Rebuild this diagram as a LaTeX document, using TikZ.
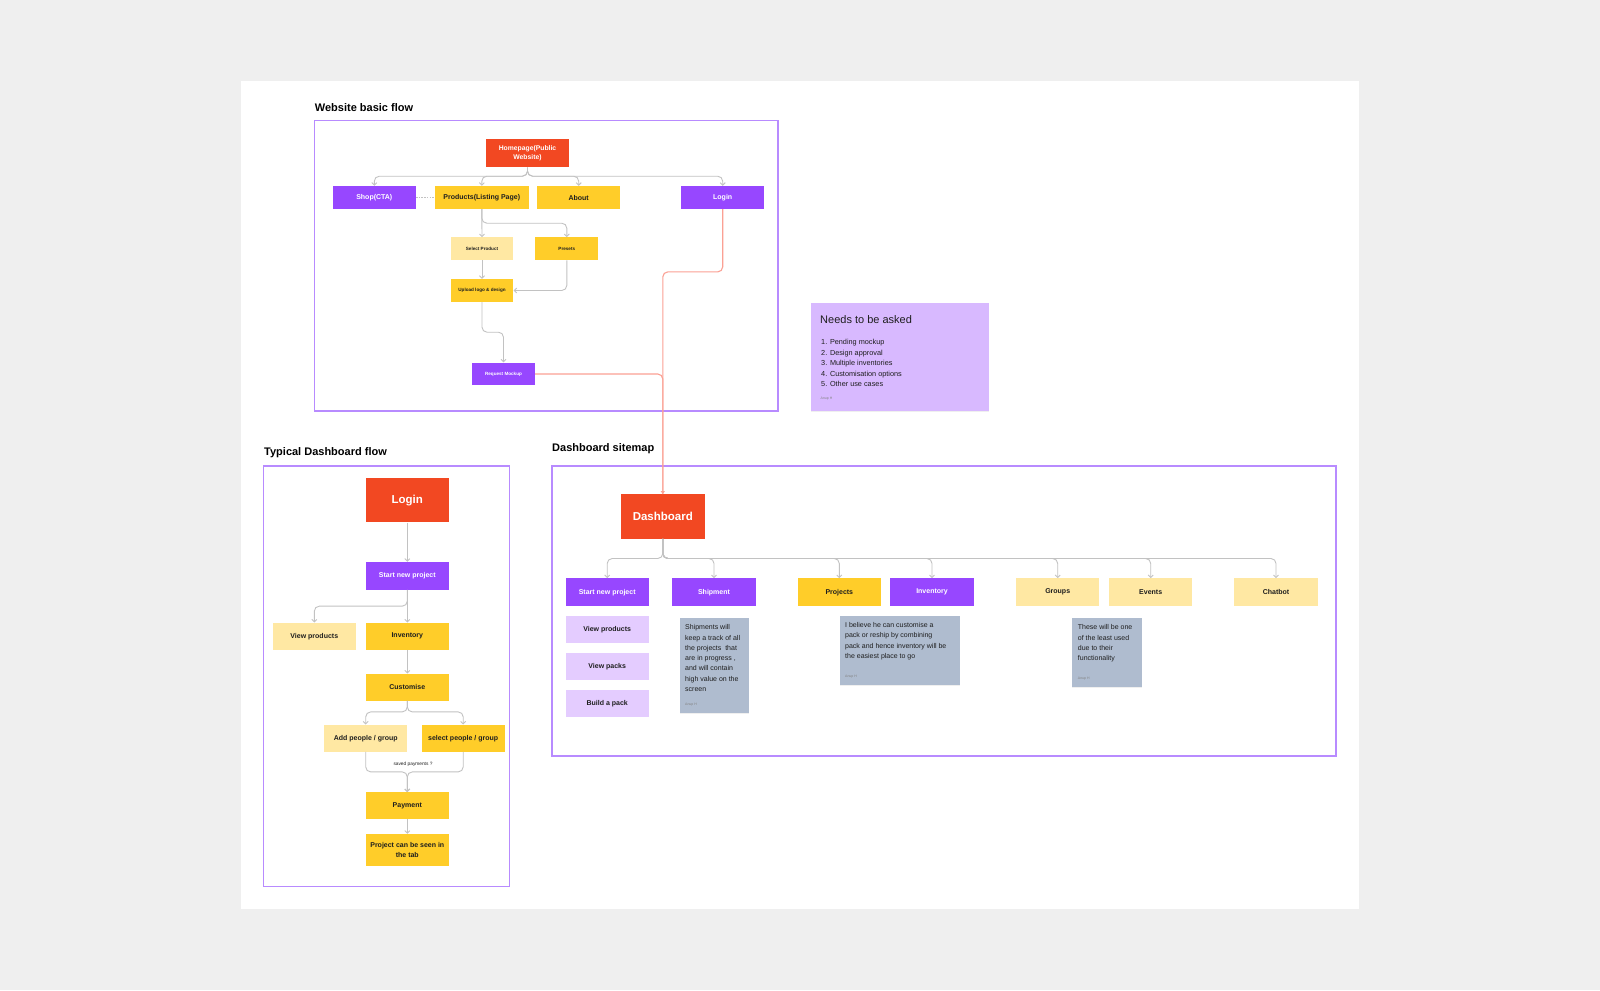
\documentclass[tikz,border=0pt]{standalone}
\usepackage{fontspec}
\setmainfont{Liberation Sans}
\usetikzlibrary{arrows.meta, positioning, shadows}
\definecolor{cbg}{HTML}{EFEFEF}
\definecolor{cframe}{HTML}{B88BFF}
\definecolor{cred}{HTML}{F24822}
\definecolor{cpurple}{HTML}{9747FF}
\definecolor{cyellow}{HTML}{FFCD29}
\definecolor{cpale}{HTML}{FFE8A3}
\definecolor{clilac}{HTML}{E4CCFF}
\definecolor{csticky}{HTML}{D8B9FF}
\definecolor{cnote}{HTML}{AFBCCF}
\definecolor{cline}{HTML}{C2C2C2}
\definecolor{csalmon}{HTML}{FBA194}
\definecolor{cink}{HTML}{1E1E1E}
\tikzset{
  box/.style={fill=#1, text=cink, inner sep=0pt, minimum width=83.3pt, minimum height=27.7pt, align=center, font=\fontsize{7}{9}\selectfont\bfseries},
  box/.default=cyellow,
  darkbox/.style={box=#1, text=white},
  tiny/.style={minimum width=62.7pt, minimum height=22.7pt, font=\fontsize{4.6}{6}\selectfont\bfseries},
  frame/.style={draw=cframe, line width=1.5pt},
  title/.style={anchor=west, inner sep=0pt, text=black, font=\fontsize{11}{13}\selectfont\bfseries},
  conn/.style={draw=cline, line width=0.9pt, rounded corners=5pt, -{Straight Barb[length=2.5pt, width=5pt]}},
  redconn/.style={draw=csalmon, line width=1.1pt, rounded corners=5pt},
  note/.style={fill=#1, anchor=north west, inner sep=0pt, drop shadow={opacity=0.12, shadow xshift=0pt, shadow yshift=-1pt}},
  notetext/.style={anchor=north west, inner sep=0pt, align=left, text=cink, font=\fontsize{7}{10.3}\selectfont},
  sign/.style={anchor=west, inner sep=0pt, text=cink!55, font=\fontsize{3.5}{4}\selectfont},
}

\begin{document}
\begin{tikzpicture}[x=1pt, y=-1pt]
  \useasboundingbox[fill=cbg] (0,0) rectangle (1600,990);
  \fill[white] (241,81) rectangle (1359,909.3);

  % website basic flow
  \node[title] at (314.7,107.7) {Website basic flow};
  \draw[frame] (314.7,120.7) rectangle (778,411);
  \node[darkbox=cred, minimum width=83pt, minimum height=28pt, font=\fontsize{6.8}{9.3}\selectfont\bfseries] (home) at (527.5,153.3) {Homepage(Public\\Website)};
  \node[darkbox=cpurple, minimum width=83pt, minimum height=23pt] (shop) at (374.3,197.5) {Shop(CTA)};
  \node[box, minimum width=93.7pt, minimum height=23pt] (products) at (481.8,197.5) {Products(Listing Page)};
  \node[box, minimum width=83pt, minimum height=23pt] (about) at (578.7,197.5) {About};
  \node[darkbox=cpurple, minimum width=83pt, minimum height=23pt] (login) at (722.7,197.5) {Login};
  \node[box=cpale, tiny] (selprod) at (482,248.7) {Select Product};
  \node[box, tiny] (presets) at (566.8,248.7) {Presets};
  \node[box, tiny, minimum height=23pt] (upload) at (482,290.5) {Upload logo \& design};
  \node[darkbox=cpurple, tiny] (mockup) at (503.5,374) {Request Mockup};

  \draw[conn] (home.south) -- ++(0,8.7) -| (shop.north);
  \draw[conn] (home.south) -- ++(0,8.7) -| (products.north);
  \draw[conn] (home.south) -- ++(0,8.7) -| (about.north);
  \draw[conn] (home.south) -- ++(0,8.7) -| (login.north);
  \draw[draw=cline, line width=0.6pt, dash pattern=on 1.5pt off 1.2pt] (shop.east) -- (products.west);
  \draw[conn] (products.south) -- (selprod.north);
  \draw[conn] (products.south) -- ++(0,14) -| (presets.north);
  \draw[conn] (selprod.south) -- (upload.north);
  \draw[conn] (presets.south) |- (upload.east);
  \draw[conn] (upload.south) -- ++(0,30) -| (mockup.north);

  % needs to be asked
  \node[note=csticky, minimum width=177.7pt, minimum height=108.4pt] (needs) at (810.7,302.3) {};
  \node[anchor=west, inner sep=0pt, text=cink, font=\fontsize{11}{13}\selectfont] (needstitle) at (820,319.3) {Needs to be asked};
  \node[notetext, font=\fontsize{7.3}{10.45}\selectfont] (needslist) at (821,339.3) {1. Pending mockup\\2. Design approval\\3. Multiple inventories\\4. Customisation options\\5. Other use cases};
  \node[sign] (needssign) at (820.5,398.3) {Anup H};

  % typical dashboard flow
  \node[title] at (264,452.3) {Typical Dashboard flow};
  \draw[frame] (263.3,466) rectangle (509.3,886.7);
  \node[darkbox=cred, minimum height=44pt, font=\fontsize{11.5}{13}\selectfont\bfseries] (tlogin) at (407.3,500.3) {Login};
  \node[darkbox=cpurple] (tstart) at (407.3,575.8) {Start new project};
  \node[box=cpale, minimum height=27pt] (tview) at (314.3,636.2) {View products};
  \node[box, minimum height=27pt] (tinv) at (407.3,636.2) {Inventory};
  \node[box, minimum height=27pt] (tcust) at (407.3,687.2) {Customise};
  \node[box=cpale, minimum height=27pt] (tadd) at (365.7,738.2) {Add people / group};
  \node[box, minimum height=27pt] (tsel) at (463.2,738.2) {select people / group};
  \node[box, minimum height=26.7pt] (tpay) at (407.3,805.7) {Payment};
  \node[box, minimum height=31.7pt, font=\fontsize{7}{10}\selectfont\bfseries] (tproj) at (407.3,849.8) {Project can be seen in\\the tab};
  \node[inner sep=0pt, text=cink, font=\fontsize{4.8}{6}\selectfont] (saved) at (413,764.3) {saved payments ?};

  \draw[conn] (tlogin.south) -- (tstart.north);
  \draw[conn] (tstart.south) -- (tinv.north);
  \draw[conn] (tstart.south) -- ++(0,16.3) -| (tview.north);
  \draw[conn] (tinv.south) -- (tcust.north);
  \draw[conn] (tcust.south) -- ++(0,11) -| (tadd.north);
  \draw[conn] (tcust.south) -- ++(0,11) -| (tsel.north);
  \draw[conn] (tadd.south) -- ++(0,20) -| (tpay.north);
  \draw[conn] (tsel.south) -- ++(0,20) -| (tpay.north);
  \draw[conn] (tpay.south) -- (tproj.north);

  % dashboard sitemap
  \node[title] at (552,448.3) {Dashboard sitemap};
  \draw[frame] (552,466) rectangle (1336,756);
  \node[darkbox=cred, minimum width=83.7pt, minimum height=44.4pt, font=\fontsize{11.5}{13}\selectfont\bfseries] (dash) at (662.8,516.5) {Dashboard};
  \node[darkbox=cpurple] (dstart) at (607.2,592.2) {Start new project};
  \node[darkbox=cpurple] (dship) at (714,592.2) {Shipment};
  \node[box] (dproj) at (839.3,592.2) {Projects};
  \node[darkbox=cpurple] (dinv) at (932,592.2) {Inventory};
  \node[box=cpale] (dgroups) at (1057.7,592.2) {Groups};
  \node[box=cpale] (devents) at (1150.7,592.2) {Events};
  \node[box=cpale] (dchat) at (1276,592.2) {Chatbot};
  \node[box=clilac, minimum height=27.3pt] (dviewprod) at (607.2,629.3) {View products};
  \node[box=clilac, minimum height=27.3pt] (dpacks) at (607.2,666.3) {View packs};
  \node[box=clilac, minimum height=27.3pt] (dbuild) at (607.2,703.5) {Build a pack};

  \foreach \n in {dstart, dship, dproj, dinv, dgroups, devents, dchat}
    \draw[conn] (dash.south) -- ++(0,19.6) -| (\n.north);

  \node[note=cnote, minimum width=69.4pt, minimum height=95.4pt] (shipnote) at (679.3,617.3) {};
  \node[notetext] (shiptext) at (685,624.5) {Shipments will\\keep a track of all\\the projects\ \ that\\are in progress ,\\and will contain\\high value on the\\screen};
  \node[sign] (shipsign) at (685,704.7) {Anup H};
  \node[note=cnote, minimum width=120.7pt, minimum height=69.4pt] (projnote) at (839.3,615.3) {};
  \node[notetext] (projtext) at (845,622.3) {I believe he can customise a\\pack or reship by combining\\pack and hence inventory will be\\the easiest place to go};
  \node[sign] (projsign) at (845,676.7) {Anup H};
  \node[note=cnote, minimum width=69.6pt, minimum height=69.7pt] (groupnote) at (1071.7,617.3) {};
  \node[notetext] (grouptext) at (1077.7,624.7) {These will be one\\of the least used\\due to their\\functionality};
  \node[sign] (groupsign) at (1077.7,678.7) {Anup H};

  % links into the dashboard
  \draw[redconn, -{Triangle[length=3pt, width=4pt]}] (login.south) -- ++(0,62.7) -| (dash.north);
  \draw[redconn] (mockup.east) -| (dash.north);
\end{tikzpicture}
\end{document}
